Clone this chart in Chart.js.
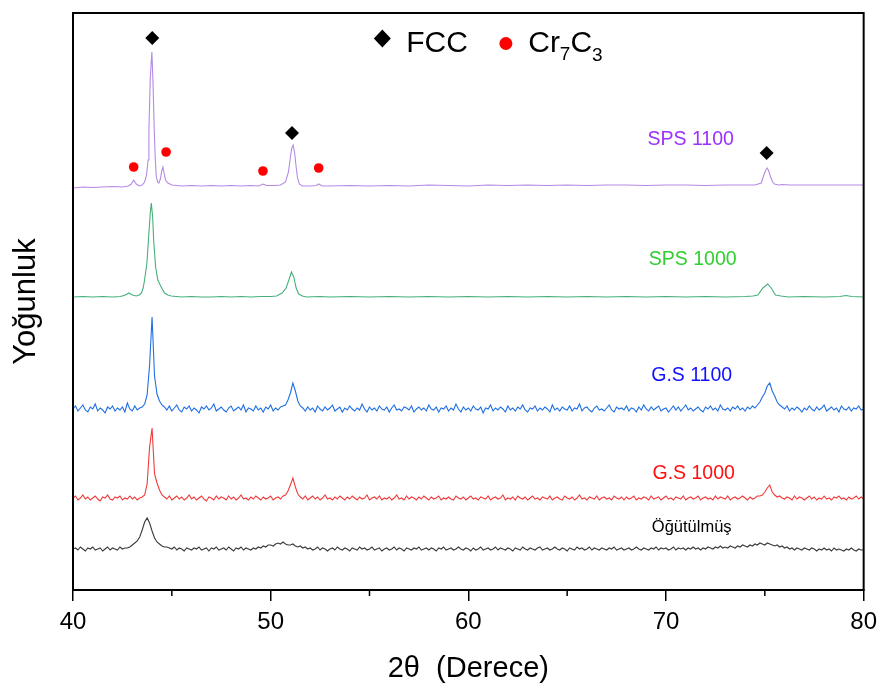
<!DOCTYPE html>
<html><head><meta charset="utf-8">
<script src="https://cdn.jsdelivr.net/npm/chart.js@4.4.1/dist/chart.umd.min.js"></script>
<style>html,body{margin:0;padding:0;background:#fff;}canvas{display:block;}</style>
</head><body>
<canvas id="c" width="884" height="688"></canvas>
<script>
// ---- axis / category data ----
const xTickValues = [40, 50, 60, 70, 80];
const minorTickValues = [45, 55, 65, 75];
const seriesNames = ['SPS 1100', 'SPS 1000', 'G.S 1100', 'G.S 1000', 'Öğütülmüş'];
const xTitle = '2θ  (Derece)';
const yTitle = 'Yoğunluk';
const legendNames = ['FCC', 'Cr', '7', 'C', '3'];

// ---- smooth (SPS) patterns: [2θ, intensity] ----
const sps1100 = [[40,402],[40.5,403],[41,402.5],[41.5,403],[42,403.5],[42.5,403],[42.8,404],[42.95,406],[43.07,410],[43.2,406],[43.35,404],[43.5,405],[43.62,408],[43.72,415],[43.8,430],[43.84,460],[43.91,512],[43.99,538],[44.04,512],[44.11,460],[44.16,432],[44.21,414],[44.28,408],[44.34,407],[44.42,411],[44.49,419],[44.55,423],[44.61,417],[44.68,410],[44.8,407],[45,405],[45.5,404],[46,404.5],[46.5,404],[47,404.5],[47.5,404],[48,404.5],[48.5,404],[49,404.5],[49.4,404],[49.61,406],[49.8,404.5],[50.2,404.5],[50.5,405],[50.75,408],[50.9,418],[51.0,433],[51.07,442],[51.14,445],[51.22,436],[51.29,423],[51.36,412],[51.45,406],[51.6,404],[52.0,404],[52.3,404.5],[52.43,406],[52.6,404],[53,404],[54,404.5],[55,404],[56,404.5],[57,404],[58,405],[59,404.5],[60,404],[61,405],[62,404.5],[63,405],[64,404.5],[65,405],[66,404.5],[67,405],[68,405],[69,404.5],[70,405],[71,405],[72,404.5],[73,405],[74,405],[74.5,405],[74.82,407],[74.95,415],[75.05,420],[75.12,422],[75.2,419],[75.29,413],[75.4,408],[75.49,406],[75.7,405],[75.9,405.5],[76.24,405],[80,405]];

const sps1000 = [[40,293],[40.5,293.5],[41,293],[41.5,293.5],[42,293],[42.4,293.5],[42.65,295],[42.83,297],[43.0,295],[43.2,294],[43.35,295],[43.46,297],[43.55,302],[43.62,310],[43.74,327],[43.84,357],[43.91,377],[43.96,387],[44.03,373],[44.08,350],[44.18,323],[44.29,310],[44.46,303],[44.63,297],[44.8,295],[44.97,294],[45.5,293],[46,293.5],[46.5,293],[47,293],[47.5,293.5],[48,293],[48.5,293.5],[49,293],[49.5,293.5],[50,293.5],[50.3,294],[50.58,297],[50.78,302],[50.92,310],[51.05,318],[51.17,313],[51.29,302],[51.42,296],[51.6,294],[51.8,293],[52.5,293.5],[53,293],[54,293.5],[55,293],[56,293.5],[57,293],[58,293.5],[59,293],[60,293.5],[61,293],[62,293.5],[63,293],[64,293.5],[65,293],[66,293.5],[67,293],[68,293.5],[69,293],[70,293.5],[71,293],[72,293.5],[73,293],[74,293.5],[74.4,294],[74.65,295],[74.9,302],[75.15,306],[75.32,302],[75.54,295],[75.82,294],[76.2,293],[77,293.5],[78,293],[78.8,293.5],[79.1,294.5],[79.4,293.5],[80,293]];

// ---- noisy patterns, sampled on one 2θ grid ----
const angleGrid = [
40,40.125,40.25,40.375,40.5,40.625,40.75,40.875,
41,41.125,41.25,41.375,41.5,41.625,41.75,41.875,
42,42.125,42.25,42.375,42.5,42.625,42.75,42.875,
43,43.125,43.25,43.375,43.5,43.625,43.75,43.875,
44,44.125,44.25,44.375,44.5,44.625,44.75,44.875,
45,45.125,45.25,45.375,45.5,45.625,45.75,45.875,
46,46.125,46.25,46.375,46.5,46.625,46.75,46.875,
47,47.125,47.25,47.375,47.5,47.625,47.75,47.875,
48,48.125,48.25,48.375,48.5,48.625,48.75,48.875,
49,49.125,49.25,49.375,49.5,49.625,49.75,49.875,
50,50.125,50.25,50.375,50.5,50.625,50.75,50.875,
51,51.125,51.25,51.375,51.5,51.625,51.75,51.875,
52,52.125,52.25,52.375,52.5,52.625,52.75,52.875,
53,53.125,53.25,53.375,53.5,53.625,53.75,53.875,
54,54.125,54.25,54.375,54.5,54.625,54.75,54.875,
55,55.125,55.25,55.375,55.5,55.625,55.75,55.875,
56,56.125,56.25,56.375,56.5,56.625,56.75,56.875,
57,57.125,57.25,57.375,57.5,57.625,57.75,57.875,
58,58.125,58.25,58.375,58.5,58.625,58.75,58.875,
59,59.125,59.25,59.375,59.5,59.625,59.75,59.875,
60,60.125,60.25,60.375,60.5,60.625,60.75,60.875,
61,61.125,61.25,61.375,61.5,61.625,61.75,61.875,
62,62.125,62.25,62.375,62.5,62.625,62.75,62.875,
63,63.125,63.25,63.375,63.5,63.625,63.75,63.875,
64,64.125,64.25,64.375,64.5,64.625,64.75,64.875,
65,65.125,65.25,65.375,65.5,65.625,65.75,65.875,
66,66.125,66.25,66.375,66.5,66.625,66.75,66.875,
67,67.125,67.25,67.375,67.5,67.625,67.75,67.875,
68,68.125,68.25,68.375,68.5,68.625,68.75,68.875,
69,69.125,69.25,69.375,69.5,69.625,69.75,69.875,
70,70.125,70.25,70.375,70.5,70.625,70.75,70.875,
71,71.125,71.25,71.375,71.5,71.625,71.75,71.875,
72,72.125,72.25,72.375,72.5,72.625,72.75,72.875,
73,73.125,73.25,73.375,73.5,73.625,73.75,73.875,
74,74.125,74.25,74.375,74.5,74.625,74.75,74.875,
75,75.125,75.25,75.375,75.5,75.625,75.75,75.875,
76,76.125,76.25,76.375,76.5,76.625,76.75,76.875,
77,77.125,77.25,77.375,77.5,77.625,77.75,77.875,
78,78.125,78.25,78.375,78.5,78.625,78.75,78.875,
79,79.125,79.25,79.375,79.5,79.625,79.75,79.875,
80];

const gs1100 = [
181,184,179,182,185,180,178,183,
181,186,179,182,180,177,183,181,
184,179,182,180,183,178,187,181,
179,184,180,182,183,186,195,225,
273,214,196,189,185,183,180,184,
179,182,185,180,178,183,181,184,
179,182,180,177,183,181,184,180,
182,186,179,181,183,180,178,182,
184,179,181,183,180,185,178,182,
181,179,184,180,182,178,183,181,
185,179,182,180,183,184,185,190,
197,207,199,189,184,182,179,183,
180,182,178,184,181,179,183,180,
182,185,179,181,183,178,182,180,
184,181,179,182,180,186,181,178,
183,180,182,179,184,181,180,183,
178,182,185,180,181,179,183,182,
180,184,178,181,183,180,182,179,
185,181,180,183,178,182,181,184,
179,182,180,186,181,178,183,180,
182,179,184,181,180,183,177,182,
181,185,179,182,180,183,181,178,
184,180,182,179,183,181,185,180,
178,182,181,184,179,182,180,183,
181,178,185,180,182,179,183,181,
180,184,179,182,181,186,179,182,
183,180,178,182,184,180,181,179,
182,185,180,178,183,181,182,180,
184,179,182,181,178,183,180,185,
181,179,183,180,182,184,179,181,
182,178,181,184,180,183,179,182,
185,180,182,179,181,183,180,178,
183,181,184,180,182,179,185,181,
180,182,179,183,181,184,180,182,
179,183,181,184,182,185,188,193,
197,204,207,199,194,188,185,183,
181,184,179,182,180,183,181,178,
182,180,184,181,179,183,180,182,
185,179,181,183,180,182,178,184,
181,180,183,179,182,181,184,180,
181];

const gs1000 = [
92,94,90,92,95,91,93,90,
92,94,91,89,93,92,95,91,
90,93,92,94,90,92,91,94,
91,93,90,92,93,95,106,143,
162,116,107,100,95,93,91,94,
90,92,94,91,93,90,92,95,
91,93,90,92,94,91,89,93,
92,90,94,91,93,92,90,94,
91,93,90,92,95,91,92,90,
93,91,94,92,90,93,91,92,
94,90,92,93,91,94,95,99,
105,112,103,96,93,91,94,90,
92,94,91,93,90,92,95,91,
92,90,93,91,94,92,90,93,
91,94,92,90,93,91,92,95,
90,92,93,91,94,90,92,91,
93,90,92,95,91,92,90,94,
91,93,92,90,93,91,94,92,
90,93,91,92,94,90,92,91,
93,91,90,94,92,91,93,90,
92,94,91,92,90,93,92,91,
94,90,92,93,91,92,95,90,
92,91,93,90,94,92,91,93,
90,92,94,91,92,90,93,92,
91,94,90,92,93,91,90,94,
92,91,93,90,92,95,91,92,
90,93,92,91,94,90,92,93,
91,92,90,94,92,91,93,90,
93,91,92,94,90,92,91,93,
92,90,94,91,92,93,90,92,
94,91,92,90,93,92,91,94,
90,92,93,91,92,94,90,92,
93,91,92,90,94,91,93,92,
91,94,90,92,93,91,92,94,
92,90,93,91,92,94,94,95,
98,102,105,98,95,93,94,92,
91,93,92,90,94,91,93,92,
90,92,94,91,93,90,92,91,
94,91,92,90,93,92,94,91,
92,90,93,91,92,94,91,93,
91];

const milled = [
41,42,40,43,41,39,42,41,
43,40,41,42,39,41,43,40,
42,41,40,43,41,42,42,43,
45,47,49,53,60,68,72,67,
59,52,48,46,44,43,43,42,
41,43,40,42,41,39,42,41,
40,42,41,43,40,41,42,39,
42,41,43,40,41,42,40,43,
41,39,42,41,43,40,42,41,
40,42,41,43,42,44,43,45,
45,44,46,47,46,48,46,45,
45,46,44,43,44,42,43,41,
42,40,41,43,40,42,41,39,
41,42,40,43,41,40,42,41,
39,42,41,40,43,41,42,40,
41,43,40,41,42,39,41,42,
40,41,43,40,42,41,39,42,
41,40,42,41,43,40,41,42,
40,42,41,39,42,41,43,40,
41,42,40,41,43,41,40,42,
41,39,42,40,41,43,40,41,
42,40,41,43,40,42,41,40,
42,41,39,42,41,40,43,41,
40,42,41,40,42,43,40,41,
42,40,41,43,41,40,42,41,
39,42,41,40,43,41,42,40,
41,43,40,42,41,40,42,41,
40,42,41,43,40,41,42,40,
41,42,40,41,43,41,40,42,
41,40,42,41,43,40,42,41,
42,40,41,43,40,42,41,42,
40,42,41,43,41,42,40,42,
41,43,42,41,43,42,44,42,
43,42,44,43,42,44,43,45,
44,43,45,44,46,45,47,46,
45,47,46,45,44,45,43,44,
42,43,41,42,40,42,41,40,
42,41,40,42,41,39,41,40,
42,40,41,39,42,40,41,40,
39,41,40,42,40,39,41,40,
40];

// phase markers (2θ, height just above the peak)
const fccMarks = [[44.01,552],[51.08,457],[75.09,437]];
const cr7c3Marks = [[43.07,423],[44.71,438],[49.61,419],[52.43,422]];

// ---- styling ----
const FONT = "'Liberation Sans', Arial, sans-serif";
const lineColors = ['#b58ae6', '#45b07a', '#1f6fe3', '#f03a3a', '#3a3a3a'];
const labelColors = ['#9b30ff', '#2fcf2f', '#1010ff', '#ff1010', '#000000'];
const labelAnchors = [[71.25,450],[71.35,330],[71.3,214],[71.4,116],[71.3,63]];
const labelSizes = [19.5, 19.5, 19.5, 19.5, 16.5];

const pairsToXY = arr => arr.map(([x, y]) => ({x, y}));
const gridToXY = vals => vals.map((y, i) => ({x: angleGrid[i], y}));
const traceData = [pairsToXY(sps1100), pairsToXY(sps1000), gridToXY(gs1100), gridToXY(gs1000), gridToXY(milled)];

const lineSets = traceData.map((d, i) => ({
  type: 'line', label: seriesNames[i], data: d,
  borderColor: lineColors[i], borderWidth: 1.1, pointRadius: 0,
  tension: 0, fill: false, order: 1
}));

const markerSets = [
  {type: 'scatter', label: 'FCC', data: pairsToXY(fccMarks), pointStyle: 'rectRot',
   pointRadius: 7, backgroundColor: '#000', borderColor: '#000', borderWidth: 0, order: -1},
  {type: 'scatter', label: 'Cr7C3', data: pairsToXY(cr7c3Marks), pointStyle: 'circle',
   pointRadius: 4.8, backgroundColor: '#ff0000', borderColor: '#ff0000', borderWidth: 0, order: -1}
];

const decor = {
  id: 'decor',
  afterDraw(chart) {
    const {ctx, chartArea: a, scales: {x, y}} = chart;
    ctx.save();
    ctx.strokeStyle = '#000';
    ctx.lineWidth = 2;
    ctx.strokeRect(a.left, a.top, a.right - a.left, a.bottom - a.top);
    ctx.lineWidth = 1.5;
    minorTickValues.forEach(v => {
      const px = x.getPixelForValue(v);
      ctx.beginPath(); ctx.moveTo(px, a.bottom); ctx.lineTo(px, a.bottom + 6); ctx.stroke();
    });
    ctx.textAlign = 'center';
    ctx.textBaseline = 'middle';
    seriesNames.forEach((n, i) => {
      ctx.font = labelSizes[i] + 'px ' + FONT;
      ctx.fillStyle = labelColors[i];
      ctx.fillText(n, x.getPixelForValue(labelAnchors[i][0]), y.getPixelForValue(labelAnchors[i][1]));
    });
    // legend
    const dx = x.getPixelForValue(55.65), dy = y.getPixelForValue(551.5);
    ctx.fillStyle = '#000';
    ctx.beginPath();
    ctx.moveTo(dx, dy - 9); ctx.lineTo(dx + 8.5, dy); ctx.lineTo(dx, dy + 9); ctx.lineTo(dx - 8.5, dy);
    ctx.closePath(); ctx.fill();
    ctx.textAlign = 'left';
    ctx.textBaseline = 'alphabetic';
    ctx.font = '30px ' + FONT;
    const tx = x.getPixelForValue(56.86), base = y.getPixelForValue(538);
    ctx.fillText(legendNames[0], tx, base);
    const cx = x.getPixelForValue(61.9), cy = y.getPixelForValue(546.5);
    ctx.fillStyle = '#ff0000';
    ctx.beginPath(); ctx.arc(cx, cy, 6.5, 0, Math.PI * 2); ctx.fill();
    ctx.fillStyle = '#000';
    let px = x.getPixelForValue(63.03);
    const parts = [[legendNames[1], 30, 0], [legendNames[2], 19, 8], [legendNames[3], 30, 0], [legendNames[4], 19, 9]];
    parts.forEach(([s, size, sub]) => {
      ctx.font = size + 'px ' + FONT;
      ctx.fillText(s, px, base + sub);
      px += ctx.measureText(s).width;
    });
    ctx.restore();
  }
};

new Chart(document.getElementById('c'), {
  type: 'line',
  data: {datasets: [...markerSets, ...lineSets]},
  options: {
    responsive: false, animation: false, devicePixelRatio: 1,
    layout: {padding: {top: 13, right: 16, left: 0, bottom: 0}},
    plugins: {legend: {display: false}, tooltip: {enabled: false}},
    scales: {
      x: {
        type: 'linear', min: 40, max: 80,
        afterFit: s => { s.height = 98; },
        afterBuildTicks: s => { s.ticks = xTickValues.map(v => ({value: v})); },
        ticks: {autoSkip: false, padding: 7, color: '#000', font: {family: FONT, size: 24}, maxRotation: 0},
        grid: {display: true, drawOnChartArea: false, drawTicks: true, tickLength: 11, color: '#000', lineWidth: 1.5},
        border: {display: true, color: '#000', width: 2},
        title: {display: true, text: xTitle, color: '#000', font: {family: FONT, size: 29}, padding: {top: 0, bottom: 2}}
      },
      y: {
        type: 'linear', min: 0, max: 577,
        afterFit: s => { s.width = 73; },
        ticks: {display: false},
        grid: {display: false},
        border: {display: false},
        title: {display: true, text: yTitle, color: '#000', font: {family: FONT, size: 31}, padding: {top: 8, bottom: 0}}
      }
    }
  },
  plugins: [decor]
});
</script>
</body></html>
